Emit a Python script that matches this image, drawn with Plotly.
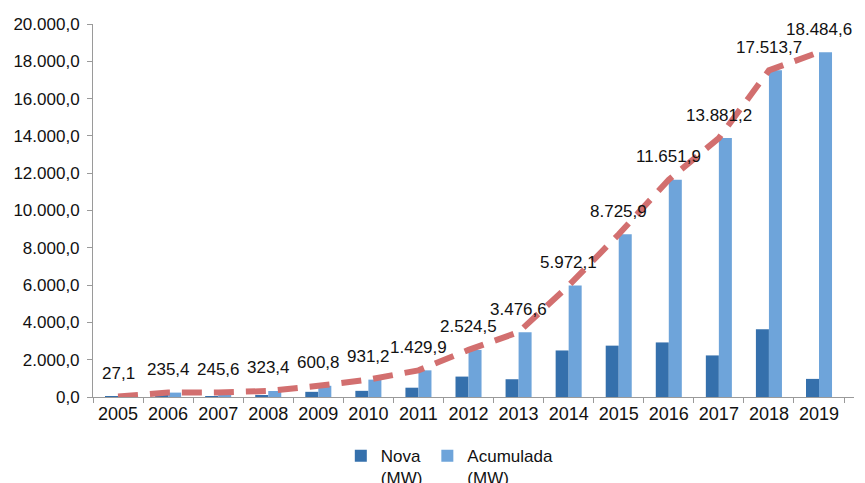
import plotly.graph_objects as go

# Wind capacity, Brazil (MW)
years = ["2005", "2006", "2007", "2008", "2009", "2010", "2011", "2012",
         "2013", "2014", "2015", "2016", "2017", "2018", "2019"]
nova = [27.1, 208.3, 10.2, 77.8, 277.4, 330.4, 498.7, 1094.6,
        952.1, 2495.5, 2753.8, 2926.0, 2229.3, 3632.5, 970.9]
acumulada = [27.1, 235.4, 245.6, 323.4, 600.8, 931.2, 1429.9, 2524.5,
             3476.6, 5972.1, 8725.9, 11651.9, 13881.2, 17513.7, 18484.6]
y_ticks = [0, 2000, 4000, 6000, 8000, 10000, 12000, 14000, 16000, 18000, 20000]


def pt_br(v, decimals=1):
    s = f"{v:,.{decimals}f}"
    return s.replace(",", "X").replace(".", ",").replace("X", ".")


FONT = "Liberation Sans, Arial, sans-serif"

fig = go.Figure()
fig.add_trace(go.Bar(
    x=years, y=nova, name="Nova<br>(MW)",
    marker=dict(color="#3570ac", line=dict(width=0)),
))
fig.add_trace(go.Bar(
    x=years, y=acumulada, name="Acumulada<br>(MW)",
    marker=dict(color="#6ea4da", line=dict(width=0)),
))
fig.add_trace(go.Scatter(
    x=years, y=acumulada, mode="lines", showlegend=False,
    line=dict(color="#d26f6f", width=6, dash="20px,12px"),
    hoverinfo="skip",
))

# value labels above the cumulative line (x given as category index)
for i, v in enumerate(acumulada):
    fig.add_annotation(
        x=i, y=v, text=pt_br(v), showarrow=False,
        yshift=23, yanchor="middle", xanchor="center",
        font=dict(family=FONT, size=17, color="#111111"),
    )

fig.update_layout(
    width=865, height=483,
    margin=dict(l=93, r=11, t=24, b=86, autoexpand=False),
    paper_bgcolor="white", plot_bgcolor="white",
    barmode="group", bargap=0.48, bargroupgap=0,
    font=dict(family=FONT, size=17, color="#111111"),
    legend=dict(
        orientation="h", xref="container", yref="container",
        x=0.394, xanchor="left", y=0.093, yanchor="top",
        font=dict(family=FONT, size=17, color="#111111"),
        valign="top", itemwidth=30, tracegroupgap=0,
        itemsizing="constant",
    ),
    xaxis=dict(
        type="category", showline=True, linecolor="#9a9a9a", linewidth=1,
        ticks="outside", ticklen=5, tickcolor="#9a9a9a",
        tickson="boundaries", showgrid=False, tickangle=0,
        tickfont=dict(family=FONT, size=18, color="#111111"),
    ),
    yaxis=dict(
        range=[0, 20000], tickvals=y_ticks,
        ticktext=[pt_br(v) for v in y_ticks],
        showline=True, linecolor="#9a9a9a", linewidth=1,
        ticks="outside", ticklen=5, tickcolor="#9a9a9a",
        showgrid=False, zeroline=False, ticklabelstandoff=4,
        tickfont=dict(family=FONT, size=17, color="#111111"),
    ),
)

fig.write_html("out.html")
